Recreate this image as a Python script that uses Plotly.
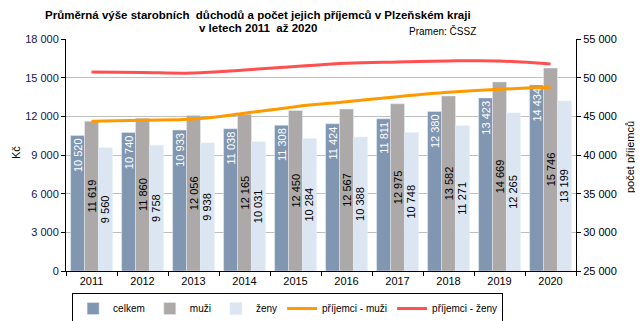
import plotly.graph_objects as go

# data
years = ["2011", "2012", "2013", "2014", "2015", "2016", "2017", "2018", "2019", "2020"]
celkem = [10520, 10740, 10933, 11038, 11308, 11424, 11811, 12380, 13423, 14434]
muzi = [11619, 11860, 12056, 12165, 12450, 12567, 12975, 13582, 14669, 15746]
zeny = [9560, 9758, 9938, 10031, 10284, 10388, 10748, 11271, 12265, 13199]
prijemci_muzi = [44350, 44490, 44650, 45390, 46250, 46890, 47540, 48110, 48500, 48750]
prijemci_zeny = [50730, 50670, 50600, 50990, 51440, 51860, 52030, 52160, 52160, 51770]

FONT = "Liberation Sans, Arial, sans-serif"

fig = go.Figure()

fig.add_trace(go.Bar(
    x=years, y=celkem, name="celkem", marker_color="#8196B0",
    text=celkem, texttemplate="%{y:,}", textposition="inside",
    insidetextanchor="end", textangle=-90,
    textfont=dict(color="white", size=11, family=FONT),
))
fig.add_trace(go.Bar(
    x=years, y=muzi, name="muži", marker_color="#ADA9A8",
    text=muzi, texttemplate="%{y:,}", textposition="inside",
    insidetextanchor="middle", textangle=-90,
    textfont=dict(color="black", size=11, family=FONT),
))
fig.add_trace(go.Bar(
    x=years, y=zeny, name="ženy", marker_color="#DCE6F2",
    text=zeny, texttemplate="%{y:,}", textposition="inside",
    insidetextanchor="middle", textangle=-90,
    textfont=dict(color="black", size=11, family=FONT),
))
fig.add_trace(go.Scatter(
    x=years, y=prijemci_muzi, name="příjemci - muži", yaxis="y2",
    mode="lines", line=dict(color="#FF9900", width=3, shape="spline"),
))
fig.add_trace(go.Scatter(
    x=years, y=prijemci_zeny, name="příjemci - ženy", yaxis="y2",
    mode="lines", line=dict(color="#FF4F4F", width=3, shape="spline"),
))

# the page body adds an 8px offset, so margins are shifted by 8px
fig.update_layout(
    width=643, height=321,
    margin=dict(l=58, r=75, t=31, b=58, autoexpand=False),
    paper_bgcolor="white", plot_bgcolor="white",
    separators=", ",
    font=dict(family=FONT, size=11, color="black"),
    barmode="group", bargap=0.18, bargroupgap=0,
    uniformtext=dict(minsize=10, mode="show"),
    showlegend=True,
    legend=dict(
        orientation="h", x=0.012, y=-0.095, xanchor="left", yanchor="top",
        bordercolor="black", borderwidth=1, font=dict(size=10),
        traceorder="normal", itemwidth=30, tracegroupgap=0,
    ),
    xaxis=dict(
        type="category", showline=True, linecolor="black", linewidth=1,
        ticks="outside", ticklen=4, tickson="boundaries", tickcolor="black",
        showgrid=False, tickfont=dict(size=11),
    ),
    yaxis=dict(
        range=[0, 18000], dtick=3000, tickformat=",",
        showline=True, linecolor="black", ticks="outside", ticklen=4,
        tickcolor="black", gridcolor="#BFBFBF", gridwidth=1,
        zeroline=False, tickfont=dict(size=11, color="#141450"),
    ),
    yaxis2=dict(
        range=[25000, 55000], dtick=5000, tickformat=",",
        overlaying="y", side="right", showgrid=False,
        showline=True, linecolor="black", ticks="outside", ticklen=4,
        tickcolor="black", zeroline=False, tickfont=dict(size=11),
    ),
    annotations=[
        dict(text="<b>Průměrná výše starobních  důchodů a počet jejich příjemců v Plzeňském kraji</b>",
             xref="paper", yref="paper", x=(258 - 66) / 510, y=(271 - 15) / 232,
             xanchor="center", yanchor="middle", showarrow=False,
             font=dict(size=11.5)),
        dict(text="<b>v letech 2011  až 2020</b>",
             xref="paper", yref="paper", x=(258 - 66) / 510, y=(271 - 28) / 232,
             xanchor="center", yanchor="middle", showarrow=False,
             font=dict(size=11.5)),
        dict(text="Pramen: ČSSZ",
             xref="paper", yref="paper", x=(407 - 66) / 510, y=(271 - 31) / 232,
             xanchor="left", yanchor="middle", showarrow=False,
             font=dict(size=10)),
        dict(text="Kč", textangle=-90,
             xref="paper", yref="paper", x=(16 - 66) / 510, y=(271 - 153) / 232,
             xanchor="center", yanchor="middle", showarrow=False,
             font=dict(size=11)),
        dict(text="počet příjemců", textangle=-90,
             xref="paper", yref="paper", x=(630 - 66) / 510, y=(271 - 157) / 232,
             xanchor="center", yanchor="middle", showarrow=False,
             font=dict(size=11)),
    ],
)

fig.write_html("out.html")
